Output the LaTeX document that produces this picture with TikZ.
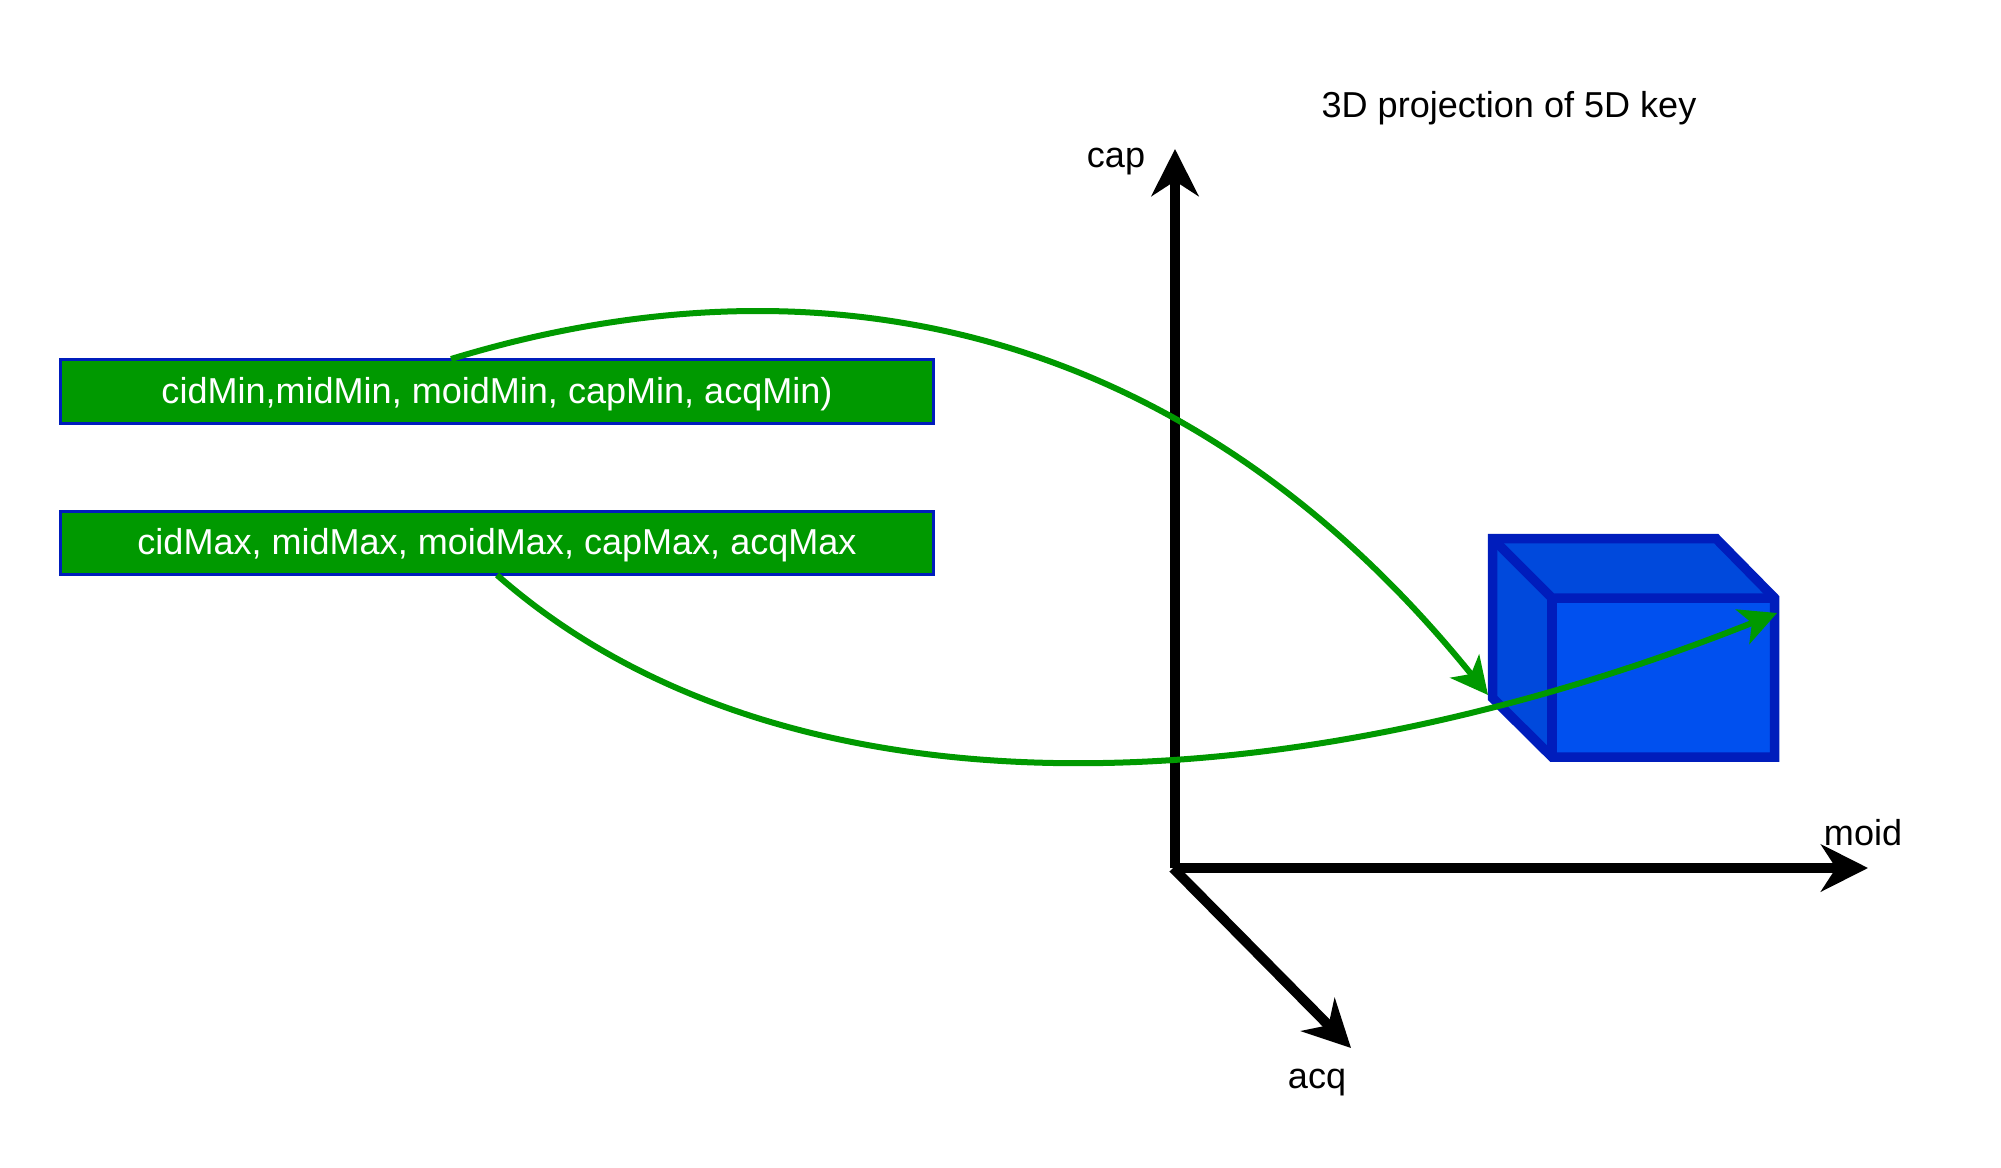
\documentclass[tikz,border=0pt]{standalone}
\usepackage{fontspec}
\setmainfont{Liberation Sans}
\usetikzlibrary{arrows.meta}
\definecolor{keygreen}{HTML}{009900}
\definecolor{cubeedge}{HTML}{001DBC}
\definecolor{cubefront}{HTML}{0050EF}
\definecolor{cubeshade}{HTML}{0049DC}
\tikzset{
	keybox/.style={draw=cubeedge, fill=keygreen, text=white, line width=0.03cm, minimum width=8.72cm, minimum height=0.63cm, inner sep=0pt, text height=0.235cm, text depth=0cm, font=\fontsize{10.25}{13}\selectfont},
	axislabel/.style={inner sep=0pt, font=\fontsize{10.25}{13}\selectfont},
	axisline/.style={line width=0.1cm, -{Stealth[length=0.47cm, width=0.47cm, inset=0.15cm]}},
	keyarrow/.style={keygreen, line width=0.06cm, -{Stealth[length=0.37cm, width=0.37cm, inset=0.1cm]}},
	cubeline/.style={draw=cubeedge, line width=0.095cm, line join=miter}
}
\begin{document}
\begin{tikzpicture}[x=0.01cm, y=-0.01cm]
		\useasboundingbox (0,0) rectangle (2001,1167);
		\node (boxMin) at (498,391.5) [keybox, xshift=-0.01cm] {cidMin,midMin, moidMin, capMin, acqMin)};
		\node (boxMax) at (498,543) [keybox, xshift=-0.01cm] {cidMax, midMax, moidMax, capMax, acqMax};
		\node (title) at (1509,108) [axislabel] {3D projection of 5D key};
		\node (capLabel) at (1116,162) [axislabel] {cap};
		\node (moidLabel) at (1863,833) [axislabel] {moid};
		\node (acqLabel) at (1317,1083) [axislabel] {acq};

		\coordinate (O) at (1175,868);
		\coordinate (capEnd) at (1175,149);
		\coordinate (moidEnd) at (1868,868);
		\coordinate (acqEnd) at (1351,1048);

		\draw [axisline] (O) -- (capEnd);
		\draw [axisline] (O) -- (moidEnd);
		\draw [axisline] (1173,868) -- (acqEnd);

		\coordinate (A) at (1492.5,538.5);
		\coordinate (B) at (1716,538.5);
		\coordinate (C) at (1774.5,598);
		\coordinate (D) at (1552,598);
		\coordinate (E) at (1552,757);
		\coordinate (F) at (1774.5,757);
		\coordinate (G) at (1492.5,698);

		\fill [cubeshade] (A) -- (B) -- (C) -- (D) -- cycle;
		\fill [cubeshade] (A) -- (D) -- (E) -- (G) -- cycle;
		\fill [cubefront] (D) -- (C) -- (F) -- (E) -- cycle;
		\draw [cubeline] (A) -- (D) -- (C);
		\draw [cubeline] (D) -- (E);
		\draw [cubeline] (A) -- (B) -- (C) -- (F) -- (E) -- (G) -- cycle;

		\coordinate (minStart) at (451,359);
		\coordinate (minEnd) at (1488,695);
		\coordinate (maxStart) at (497,575);
		\coordinate (maxEnd) at (1777,613);

		\draw [keyarrow] (minStart) .. controls (815,248) and (1185,320) .. (minEnd);
		\draw [keyarrow] (maxStart) .. controls (790,833) and (1300,803) .. (maxEnd);
		\end{tikzpicture}
\end{document}
